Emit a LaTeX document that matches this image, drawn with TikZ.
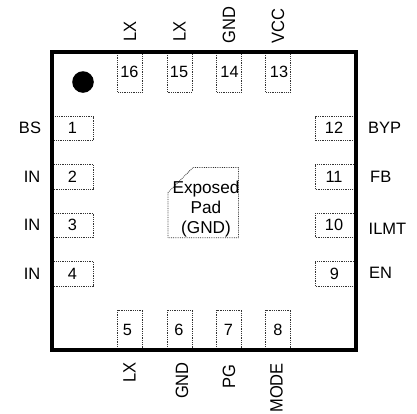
\documentclass[tikz,border=0pt]{standalone}
\usepackage{fontspec}
\setmainfont{Liberation Sans}
\tikzset{
  x=1pt,y=-1pt,
  pinbox/.style={draw=black!80,line width=0.8pt,densely dotted,fill=white,inner sep=0pt,outer sep=0pt},
  num/.style={font=\fontsize{16.3}{16}\selectfont,inner sep=0pt,text=black},
  lab/.style={font=\fontsize{16.5}{16}\selectfont,inner sep=0pt,text=black},
  vlab/.style={lab,rotate=90,yscale=1.08},
  body/.style={draw=black,line width=3.4pt,line join=miter},
  padtext/.style={font=\fontsize{17.2}{20}\selectfont,align=center,inner sep=0pt,text=black}
}
\begin{document}
\begin{tikzpicture}
\useasboundingbox (0,0) rectangle (417,413);
\fill[white] (0,0) rectangle (417,413);
% left pins
\draw[pinbox] (53,116.5) rectangle (93.5,140.5);
\draw[pinbox] (53,164.5) rectangle (93.5,189);
\draw[pinbox] (53,213) rectangle (93.5,237.5);
\draw[pinbox] (53,261.5) rectangle (93.5,286);
% right pins
\draw[pinbox] (315,116.5) rectangle (355,140.5);
\draw[pinbox] (315,164.5) rectangle (355,189);
\draw[pinbox] (315,213) rectangle (355,237.5);
\draw[pinbox] (315,261.5) rectangle (355,286);
% top pins
\draw[pinbox] (117.5,53) rectangle (142.5,92);
\draw[pinbox] (167,53) rectangle (192,92);
\draw[pinbox] (216.5,53) rectangle (241.5,92);
\draw[pinbox] (265.5,53) rectangle (290.5,92);
% bottom pins
\draw[pinbox] (117.5,310) rectangle (142.5,349);
\draw[pinbox] (167,310) rectangle (192,349);
\draw[pinbox] (216.5,310) rectangle (241.5,349);
\draw[pinbox] (265.5,310) rectangle (290.5,349);
% package
\draw[body] (52,52) rectangle (356,350);
\fill[black] (83,82) circle (10.8);
% exposed pad
\draw[pinbox] (168,237.7) -- (168,192.5) -- (193,167.5) -- (238.5,167.5) -- (238.5,237.7) -- cycle;
\node[padtext] (pad) at (206,209) {Exposed\\Pad\\(GND)};
% numbers
\node[num] (n1) at (72.5,128) {1};
\node[num] (n2) at (72.5,176.5) {2};
\node[num] (n3) at (72.5,225) {3};
\node[num] (n4) at (72.5,273.5) {4};
\node[num] (n5) at (127.5,330) {5};
\node[num] (n6) at (179,330) {6};
\node[num] (n7) at (228.5,330) {7};
\node[num] (n8) at (278,330) {8};
\node[num] (n9) at (334.5,273.5) {9};
\node[num] (n10) at (334,225) {10};
\node[num] (n11) at (334,176.5) {11};
\node[num] (n12) at (334,128) {12};
\node[num] (n13) at (279,71.5) {13};
\node[num] (n14) at (229.5,71.5) {14};
\node[num] (n15) at (179,71.5) {15};
\node[num] (n16) at (129.5,71.5) {16};
% left labels
\node[lab] (bs) at (30,128) {BS};
\node[lab] (in2) at (32,176.5) {IN};
\node[lab] (in3) at (32,225) {IN};
\node[lab] (in4) at (32,273.5) {IN};
% right labels
\node[lab,anchor=west] (byp) at (368,127.5) {BYP};
\node[lab,anchor=west] (fb) at (370,176.5) {FB};
\node[lab,anchor=west] (ilmt) at (368.5,228.5) {ILMT};
\node[lab,anchor=west] (en) at (369,273) {EN};
% top labels
\node[vlab,anchor=west] (t16) at (130,41.7) {LX};
\node[vlab,anchor=west] (t15) at (179.5,41.7) {LX};
\node[vlab,anchor=west] (t14) at (229,43.3) {GND};
\node[vlab,anchor=west] (t13) at (278,43.3) {VCC};
% bottom labels
\node[vlab,anchor=east] (b5) at (129.5,362) {LX};
\node[vlab,anchor=east] (b6) at (182,362) {GND};
\node[vlab,anchor=east] (b7) at (229,364) {PG};
\node[vlab,anchor=east] (b8) at (276.5,363) {MODE};
\end{tikzpicture}
\end{document}
